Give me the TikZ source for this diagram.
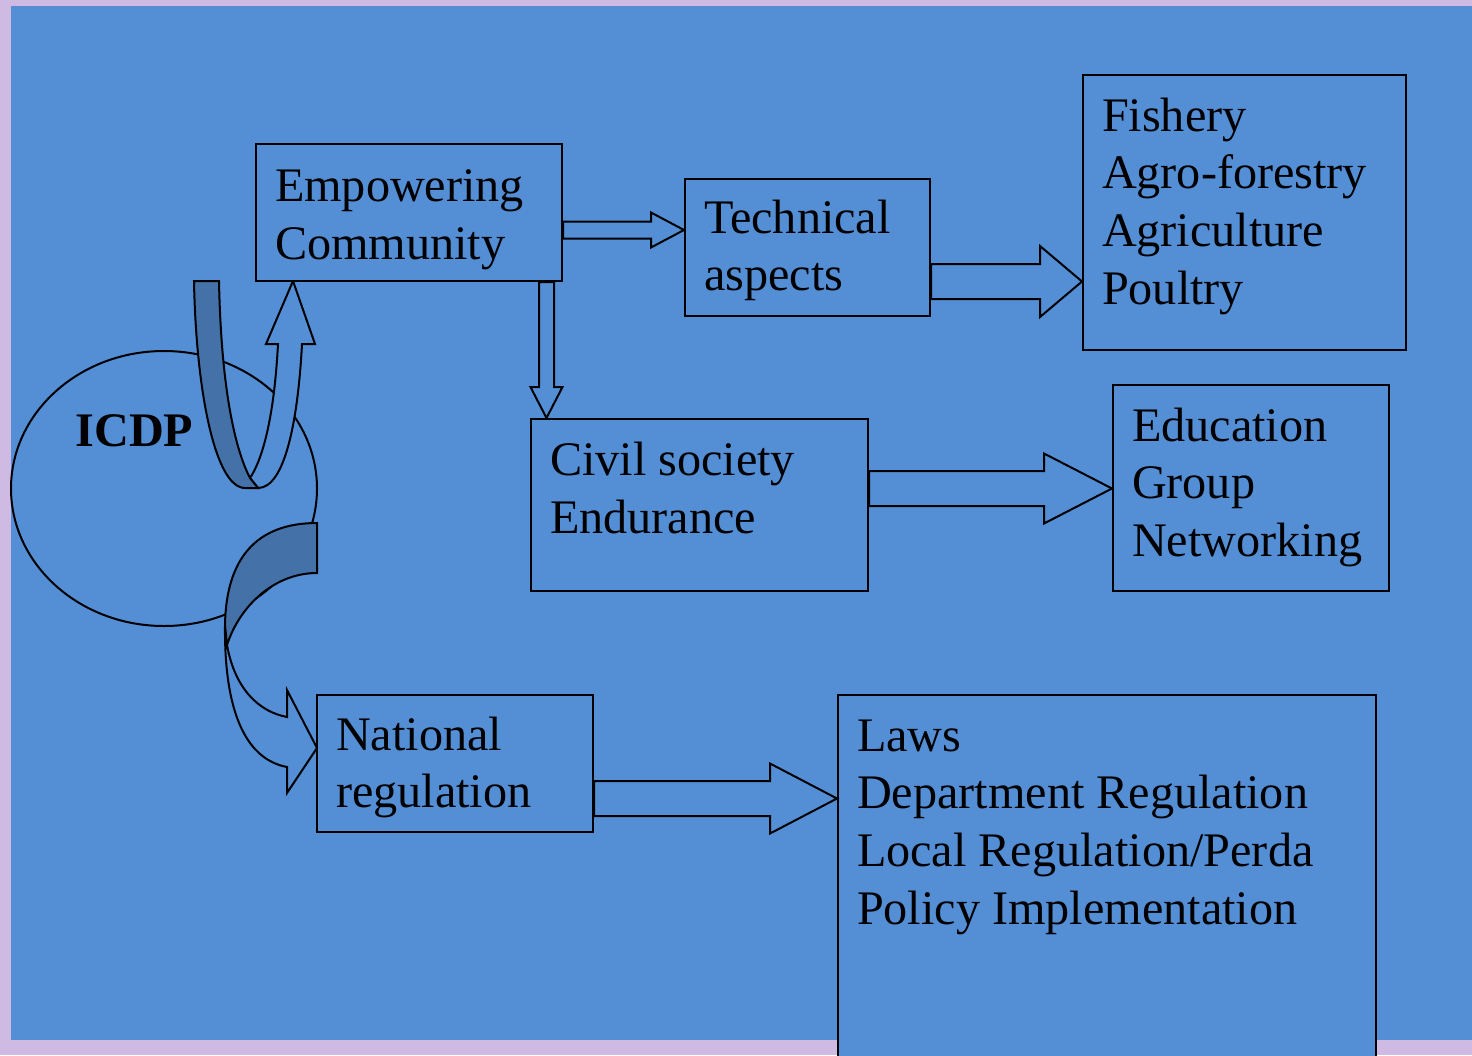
\documentclass[tikz,border=0pt]{standalone}
\usepackage{fontspec}
\setmainfont{Liberation Serif}
\usetikzlibrary{calc,shapes.geometric}

\definecolor{bgblue}{RGB}{84,143,214}
\definecolor{bandblue}{RGB}{68,114,168}
\definecolor{lilac}{RGB}{206,186,226}

% block arrow to the right: from, to, y, half shaft, half head, head length
\newcommand{\rarrow}[6]{%
	\draw[blockarrow] ($(#1.east |- 0,#3)+(0,-#4)$) -- ($(#2.west |- 0,#3)+(-#6,-#4)$) -- ++(0,#4-#5)
		-- (#2.west |- 0,#3) -- ($(#2.west |- 0,#3)+(-#6,#5)$) -- ++(0,#4-#5)
		-- ($(#1.east |- 0,#3)+(0,#4)$) -- cycle;}

\begin{document}
\begin{tikzpicture}[x=1pt, y=-1pt, line width=2pt,
	box/.style={draw, fill=bgblue, inner sep=0pt},
	txt/.style={anchor=north west, inner sep=0pt, align=left, font=\fontsize{48.2}{57.6}\selectfont},
	blockarrow/.style={draw, fill=bgblue},
	band/.style={draw, fill=bandblue}]
		\useasboundingbox (0,0) rectangle (1472,1055);
		\clip (0,0) rectangle (1472,1055);
		\fill[lilac] (0,0) rectangle (1472,1055);
		\fill[bgblue] (11,6) rectangle (1472,1040);
		
		\node[draw, ellipse, inner sep=0pt, minimum width=306pt, minimum height=275pt] (icdp) at (164,488.5) {};
		\node[txt, font=\fontsize{48.2}{57.6}\selectfont\bfseries] (icdpT) at (74.5,405.5) {\strut ICDP};
		
		% curved arrow up to the community
		\draw[blockarrow] (258,488) .. controls (285,488) and (298,420) .. (302,344) -- (315,344) -- (293,281)
			-- (266,344) -- (278,344) .. controls (274,420) and (262,460) .. (250,478) -- cycle;
		\draw[band] (194,281) -- (219,281) .. controls (221,380) and (233,445) .. (250,478) -- (258,488)
			-- (245,488) .. controls (215,488) and (196,390) .. (194,281) -- cycle;
		
		% curved arrow down to the regulation
		\draw[blockarrow] (225,625) .. controls (224,720) and (250,760) .. (287,767) -- (287,793) -- (317,748)
			-- (287,690) -- (287,717) .. controls (260,712) and (235,690) .. (227,645) -- cycle;
		\draw[band] (317,523) .. controls (255,523) and (226,560) .. (225,625) -- (227,645)
			.. controls (240,605) and (275,573) .. (317,573) -- cycle;
		
		\node[box, minimum width=306pt, minimum height=137pt] (empower) at (409,212.5) {};
		\node[box, minimum width=245pt, minimum height=137pt] (tech) at (807.5,247.5) {};
		\node[box, minimum width=323pt, minimum height=275pt] (fish) at (1244.5,212.5) {};
		\node[box, minimum width=276pt, minimum height=206pt] (edu) at (1251,488) {};
		\node[box, minimum width=337pt, minimum height=172pt] (civil) at (699.5,505) {};
		\node[box, minimum width=276pt, minimum height=137pt] (natl) at (455,763.5) {};
		\node[box, minimum width=538pt, minimum height=375pt] (laws) at (1107,882.5) {};
		
		\node[txt] (empowerT) at (274,160.5) {\strut Empowering\\Community};
		\node[txt] (techT) at (703,192) {\strut Technical\\aspects};
		\node[txt] (fishT) at (1101,90) {\strut Fishery\\Agro-forestry\\Agriculture\\Poultry};
		\node[txt] (eduT) at (1131,400) {\strut Education\\Group\\Networking};
		\node[txt] (civilT) at (549,434.5) {\strut Civil society\\Endurance};
		\node[txt] (natlT) at (335,709) {\strut National\\regulation};
		\node[txt] (lawsT) at (856,710) {\strut Laws\\Department Regulation\\Local Regulation/Perda\\Policy Implementation};
		
		\rarrow{empower}{tech}{230}{8.5}{17.5}{33}
		\rarrow{tech}{fish}{281.5}{17.5}{35.5}{42}
		\rarrow{civil}{edu}{488.5}{17.5}{35}{68}
		\rarrow{natl}{laws}{798.5}{17.5}{35}{67}
		
		\draw[blockarrow] ($(empower.south -| 546.5,0)+(-7.5,0)$) -- ($(civil.north -| 546.5,0)+(-7.5,-31)$) -- ++(7.5-16,0)
			-- (civil.north -| 546.5,0) -- ($(civil.north -| 546.5,0)+(16,-31)$) -- ++(7.5-16,0)
			-- ($(empower.south -| 546.5,0)+(7.5,0)$) -- cycle;
	\end{tikzpicture}
\end{document}
